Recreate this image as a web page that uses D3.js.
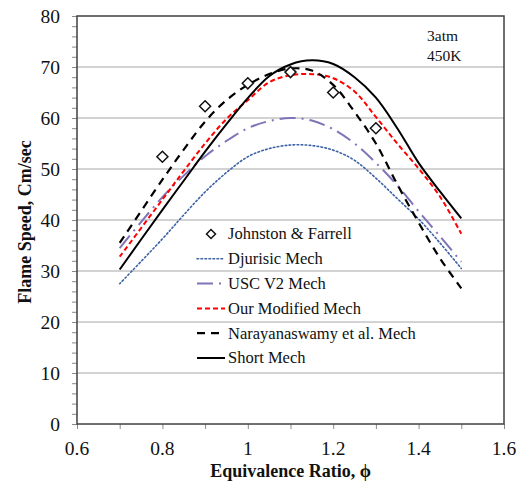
<!DOCTYPE html>
<html>
<head>
<meta charset="utf-8">
<script src="https://cdn.jsdelivr.net/npm/d3@7"></script>
<style>
  body { margin: 0; background: #fff; }
</style>
</head>
<body>
<svg id="chart"></svg>
<script>
// data
const phi        = [0.7, 0.8, 0.85, 0.9, 0.95, 1.0, 1.05, 1.1, 1.15, 1.2, 1.25, 1.3, 1.35, 1.4, 1.45, 1.5];
const djurisic   = [27.5, 36.3, 41.0, 45.5, 49.3, 52.4, 54.0, 54.7, 54.6, 53.7, 51.7, 48.2, 44.2, 40.2, 35.5, 30.5];
const uscV2      = [34.5, 44.5, 48.7, 52.5, 55.5, 58.0, 59.4, 60.0, 59.5, 57.8, 55.0, 51.2, 46.8, 41.7, 36.8, 31.8];
const ourMod     = [32.8, 44.0, 49.6, 55.0, 59.8, 63.5, 67.0, 68.4, 68.6, 67.8, 65.2, 60.2, 55.0, 50.1, 44.6, 37.3];
const narayan    = [35.5, 47.9, 53.8, 59.3, 63.5, 66.5, 68.6, 69.7, 69.3, 66.5, 61.2, 55.0, 47.0, 39.5, 32.5, 26.6];
const shortMech  = [30.3, 42.0, 47.7, 53.4, 58.8, 63.9, 68.2, 70.5, 71.3, 70.6, 68.0, 64.0, 58.0, 51.2, 45.6, 40.3];
const expPhi     = [0.8, 0.9, 1.0, 1.1, 1.2, 1.3];
const expSpeed   = [52.4, 62.3, 66.8, 69.0, 65.0, 58.0];
const xTickLabels = [0.6, 0.8, 1.0, 1.2, 1.4, 1.6];
const yTickLabels = [0, 10, 20, 30, 40, 50, 60, 70, 80];

const W = 529, H = 488;
const m = { left: 77, right: 25, top: 16, bottom: 64 };
const FONT = "'Liberation Serif', 'Times New Roman', 'DejaVu Serif', serif";

const svg = d3.select("#chart").attr("width", W).attr("height", H)
  .style("font-family", FONT);

const x = d3.scaleLinear().domain([0.6, 1.6]).range([m.left, W - m.right]);
const y = d3.scaleLinear().domain([0, 80]).range([H - m.bottom, m.top]);

// gridlines
svg.append("g")
  .selectAll("line")
  .data(yTickLabels.filter(v => v > 0 && v < 80))
  .join("line")
    .attr("x1", x(0.6)).attr("x2", x(1.6))
    .attr("y1", d => y(d)).attr("y2", d => y(d))
    .attr("stroke", "#a6a6a6").attr("stroke-width", 1);

// y axis: minor ticks every 2, labels every 10
const yAxis = svg.append("g").attr("transform", `translate(${x(0.6)},0)`);
yAxis.call(d3.axisLeft(y).tickValues(d3.range(0, 81, 2)).tickSize(5).tickFormat(""))
  .call(g => g.select(".domain").remove())
  .call(g => g.selectAll("line").attr("stroke", "#8a8a8a"));
yAxis.selectAll(".lab")
  .data(yTickLabels)
  .join("text")
    .attr("class", "lab")
    .attr("x", -17).attr("y", d => y(d)).attr("dy", "0.34em")
    .attr("text-anchor", "end")
    .attr("fill", "#111")
    .style("font-family", FONT)
    .style("font-size", "19.5px")
    .text(d => d);

// x axis: ticks every 0.1, labels every 0.2
const xAxis = svg.append("g").attr("transform", `translate(0,${y(0)})`);
xAxis.call(d3.axisBottom(x).tickValues(d3.range(6, 17).map(v => v / 10)).tickSize(5).tickFormat(""))
  .call(g => g.select(".domain").remove())
  .call(g => g.selectAll("line").attr("stroke", "#8a8a8a"));
xAxis.selectAll(".lab")
  .data(xTickLabels)
  .join("text")
    .attr("class", "lab")
    .attr("x", d => x(d)).attr("y", 31)
    .attr("text-anchor", "middle")
    .attr("fill", "#111")
    .style("font-family", FONT)
    .style("font-size", "19.5px")
    .text(d => d3.format("~g")(d));

// frame
svg.append("rect")
  .attr("x", x(0.6)).attr("y", y(80))
  .attr("width", x(1.6) - x(0.6)).attr("height", y(0) - y(80))
  .attr("fill", "none").attr("stroke", "#404040").attr("stroke-width", 1.5);

// curves
const series = [
  { name: "Djurisic Mech",                vals: djurisic,  color: "#3b62a3", width: 1.6, dash: "1.6,2.4", cap: "round" },
  { name: "USC V2 Mech",                  vals: uscV2,     color: "#8073b8", width: 2,   dash: "16,6,2,6", cap: "butt" },
  { name: "Our Modified Mech",            vals: ourMod,    color: "#ff0000", width: 2,   dash: "5,3", cap: "butt" },
  { name: "Narayanaswamy et al. Mech",    vals: narayan,   color: "#000",    width: 2.2, dash: "8,6", cap: "butt" },
  { name: "Short Mech",                   vals: shortMech, color: "#000",    width: 2,   dash: null, cap: "butt" }
];

const line = d3.line()
  .x(d => x(d[0])).y(d => y(d[1]))
  .curve(d3.curveCatmullRom.alpha(0.5));

svg.append("g")
  .selectAll("path")
  .data(series)
  .join("path")
    .attr("d", s => line(phi.map((p, i) => [p, s.vals[i]])))
    .attr("fill", "none")
    .attr("stroke", s => s.color)
    .attr("stroke-width", s => s.width)
    .attr("stroke-dasharray", s => s.dash)
    .attr("stroke-linecap", s => s.cap);

// experimental diamonds
const diamond = (cx, cy, r) => `M${cx},${cy - r}L${cx + r},${cy}L${cx},${cy + r}L${cx - r},${cy}Z`;
svg.append("g")
  .selectAll("path")
  .data(expPhi.map((p, i) => [p, expSpeed[i]]))
  .join("path")
    .attr("d", d => diamond(x(d[0]), y(d[1]), 5.5))
    .attr("fill", "#fff").attr("stroke", "#111").attr("stroke-width", 1.5);

// legend
const lg = svg.append("g").attr("transform", "translate(197,234)");
const rowH = 24.8;
lg.append("path").attr("d", diamond(14, 0, 4.5))
  .attr("fill", "#fff").attr("stroke", "#111").attr("stroke-width", 1.5);
lg.append("text").attr("x", 31).attr("y", 0).attr("dy", "0.33em")
  .attr("fill", "#111").style("font-size", "16.5px").text("Johnston & Farrell");
series.forEach((s, i) => {
  const yy = (i + 1) * rowH;
  lg.append("line")
    .attr("x1", 0).attr("x2", 28).attr("y1", yy).attr("y2", yy)
    .attr("stroke", s.color).attr("stroke-width", s.width)
    .attr("stroke-dasharray", s.dash).attr("stroke-linecap", s.cap);
  lg.append("text").attr("x", 31).attr("y", yy).attr("dy", "0.33em")
    .attr("fill", "#111").style("font-size", "16.5px").text(s.name);
});

// condition note
svg.append("text").attr("x", 427).attr("y", 41).attr("fill", "#111").style("font-size", "15.5px").text("3atm");
svg.append("text").attr("x", 427).attr("y", 61).attr("fill", "#111").style("font-size", "15.5px").text("450K");

// axis titles
svg.append("text")
  .attr("x", x(1.1)).attr("y", 477)
  .attr("text-anchor", "middle")
  .attr("fill", "#111")
  .style("font-size", "18px").style("font-weight", "bold")
  .text("Equivalence Ratio, ϕ");
svg.append("text")
  .attr("transform", `translate(31,${(y(0) + y(80)) / 2 + 2}) rotate(-90)`)
  .attr("text-anchor", "middle")
  .attr("fill", "#111")
  .style("font-size", "18px").style("font-weight", "bold")
  .text("Flame Speed, Cm/sec");
</script>
</body>
</html>
